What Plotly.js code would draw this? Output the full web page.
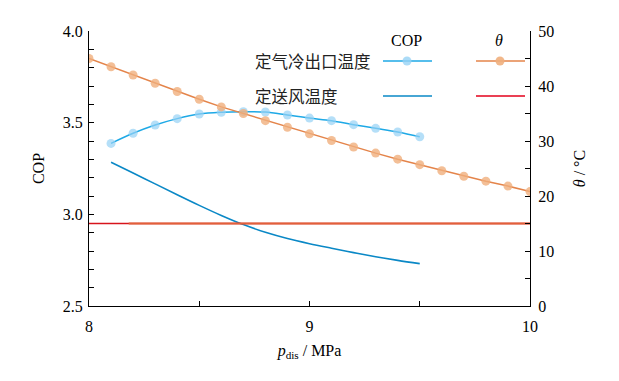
<!DOCTYPE html>
<html>
<head>
<meta charset="utf-8">
<script src="https://cdn.plot.ly/plotly-3.0.1.min.js"></script>
<style>html,body{margin:0;padding:0;background:#fff;}#chart{width:619px;height:381px;}</style>
</head>
<body>
<div id="chart"></div>
<script>
// pressure (MPa)
const pTheta = [8.0, 8.1, 8.2, 8.3, 8.4, 8.5, 8.6, 8.7, 8.8, 8.9, 9.0, 9.1, 9.2, 9.3, 9.4, 9.5, 9.6, 9.7, 9.8, 9.9, 10.0];
const pCop = [8.1, 8.2, 8.3, 8.4, 8.5, 8.6, 8.7, 8.8, 8.9, 9.0, 9.1, 9.2, 9.3, 9.4, 9.5];
// 定气冷出口温度
const copGasCooler = [3.387, 3.442, 3.487, 3.522, 3.547, 3.557, 3.560, 3.558, 3.542, 3.525, 3.511, 3.489, 3.469, 3.449, 3.423];
const thetaGasCooler = [45.0, 43.5, 42.0, 40.5, 39.0, 37.6, 36.2, 35.0, 33.7, 32.5, 31.3, 30.1, 28.9, 27.8, 26.7, 25.7, 24.6, 23.6, 22.7, 21.8, 20.8];
// 定送风温度
const copSupplyAir = [3.284, 3.225, 3.166, 3.107, 3.049, 2.994, 2.944, 2.902, 2.868, 2.840, 2.815, 2.791, 2.769, 2.749, 2.731];
const pSupplyTheta = [8.0, 10.0];
const thetaSupplyAir = [15, 15];
const pSupplyThetaOverlay = [8.18, 10.0];
const thetaSupplyAirOverlay = [15, 15];
const seriesNames = ['定气冷出口温度', '定送风温度'];

const serif = 'Liberation Serif, Times New Roman, serif';
const cjk = 'Noto Sans CJK SC, sans-serif';

const traces = [
  {x: pSupplyTheta, y: thetaSupplyAir, yaxis: 'y2', mode: 'lines', line: {color: '#d7141c', width: 1.6}, name: seriesNames[1] + ' θ', showlegend: false},
  {x: pSupplyThetaOverlay, y: thetaSupplyAirOverlay, yaxis: 'y2', mode: 'lines', line: {color: '#e2603a', width: 1.8}, showlegend: false},
  {x: pCop, y: copSupplyAir, mode: 'lines', line: {color: '#0a88c6', width: 1.6, shape: 'spline'}, name: seriesNames[1] + ' COP', showlegend: false},
  {x: pCop, y: copGasCooler, mode: 'lines+markers', line: {color: '#1ea9e6', width: 1.5, shape: 'spline'},
   marker: {color: 'rgba(150,210,245,0.7)', size: 9}, name: seriesNames[0] + ' COP', showlegend: false},
  {x: pTheta, y: thetaGasCooler, yaxis: 'y2', mode: 'lines+markers', line: {color: '#e4844a', width: 1.5},
   marker: {color: 'rgba(240,175,125,0.8)', size: 9}, name: seriesNames[0] + ' θ', showlegend: false}
];

function px2x(px) { return (px - 89) / 441; }
function py2y(py) { return (306 - py) / 275; }

const legRows = [61, 96];
const annotations = [
  {xref: 'paper', yref: 'paper', x: px2x(406), y: py2y(40), xanchor: 'center', yanchor: 'middle', text: 'COP', showarrow: false, font: {family: serif, size: 16, color: '#000'}},
  {xref: 'paper', yref: 'paper', x: px2x(499), y: py2y(40), xanchor: 'center', yanchor: 'middle', text: '<i>θ</i>', showarrow: false, font: {family: serif, size: 16, color: '#000'}},
  {xref: 'paper', yref: 'paper', x: px2x(253), y: py2y(legRows[0]), xanchor: 'left', yanchor: 'middle', text: seriesNames[0], showarrow: false, font: {family: cjk, size: 16.5, color: '#222'}},
  {xref: 'paper', yref: 'paper', x: px2x(253), y: py2y(legRows[1]), xanchor: 'left', yanchor: 'middle', text: seriesNames[1], showarrow: false, font: {family: cjk, size: 16.5, color: '#222'}}
];
const shapes = [
  {type: 'line', xref: 'paper', yref: 'paper', x0: px2x(383), x1: px2x(432), y0: py2y(legRows[0]), y1: py2y(legRows[0]), line: {color: '#1ea9e6', width: 1.5}},
  {type: 'line', xref: 'paper', yref: 'paper', x0: px2x(476), x1: px2x(525), y0: py2y(legRows[0]), y1: py2y(legRows[0]), line: {color: '#e4844a', width: 1.5}},
  {type: 'line', xref: 'paper', yref: 'paper', x0: px2x(383), x1: px2x(432), y0: py2y(legRows[1]), y1: py2y(legRows[1]), line: {color: '#0a88c6', width: 1.6}},
  {type: 'line', xref: 'paper', yref: 'paper', x0: px2x(476), x1: px2x(525), y0: py2y(legRows[1]), y1: py2y(legRows[1]), line: {color: '#e3001b', width: 1.6}},
  {type: 'circle', xref: 'paper', yref: 'paper', xsizemode: 'pixel', ysizemode: 'pixel', xanchor: px2x(407), yanchor: py2y(legRows[0]), x0: -4.5, x1: 4.5, y0: -4.5, y1: 4.5, fillcolor: 'rgba(150,210,245,0.8)', line: {width: 0}},
  {type: 'circle', xref: 'paper', yref: 'paper', xsizemode: 'pixel', ysizemode: 'pixel', xanchor: px2x(500), yanchor: py2y(legRows[0]), x0: -4.5, x1: 4.5, y0: -4.5, y1: 4.5, fillcolor: 'rgba(240,175,125,0.9)', line: {width: 0}}
];

const axisCommon = {
  showgrid: false, zeroline: false, showline: true, linecolor: '#000', linewidth: 1,
  ticks: 'inside', ticklen: 5, tickcolor: '#000', tickwidth: 1,
  tickfont: {family: serif, size: 16, color: '#000'}
};

const layout = {
  width: 619, height: 381,
  margin: {l: 89, r: 89, t: 31, b: 75},
  paper_bgcolor: '#fff', plot_bgcolor: '#fff',
  showlegend: false,
  xaxis: Object.assign({}, axisCommon, {
    range: [8, 10], dtick: 1, tick0: 8, ticklabelstandoff: 6,
    minor: {dtick: 0.5, ticks: 'inside', ticklen: 5, tickcolor: '#000'},
    title: {text: '<i>p</i><sub>dis</sub> / MPa', font: {family: serif, size: 16, color: '#000'}, standoff: 10}
  }),
  yaxis: Object.assign({}, axisCommon, {
    range: [2.5, 4.0], dtick: 0.5, tick0: 2.5, tickformat: '.1f', ticklabelstandoff: 2,
    minor: {dtick: 0.1, ticks: 'inside', ticklen: 5, tickcolor: '#000'},
    title: {text: 'COP', font: {family: serif, size: 16, color: '#000'}, standoff: 14}
  }),
  yaxis2: Object.assign({}, axisCommon, {
    overlaying: 'y', side: 'right', range: [0, 50], dtick: 10, tick0: 0, ticklabelstandoff: 4,
    minor: {dtick: 5, ticks: 'inside', ticklen: 5, tickcolor: '#000'},
    title: {text: '<i>θ</i> / °C', font: {family: serif, size: 16, color: '#000'}, standoff: 20}
  }),
  annotations: annotations,
  shapes: shapes
};

Plotly.newPlot('chart', traces, layout, {displayModeBar: false, staticPlot: true});
</script>
</body>
</html>
